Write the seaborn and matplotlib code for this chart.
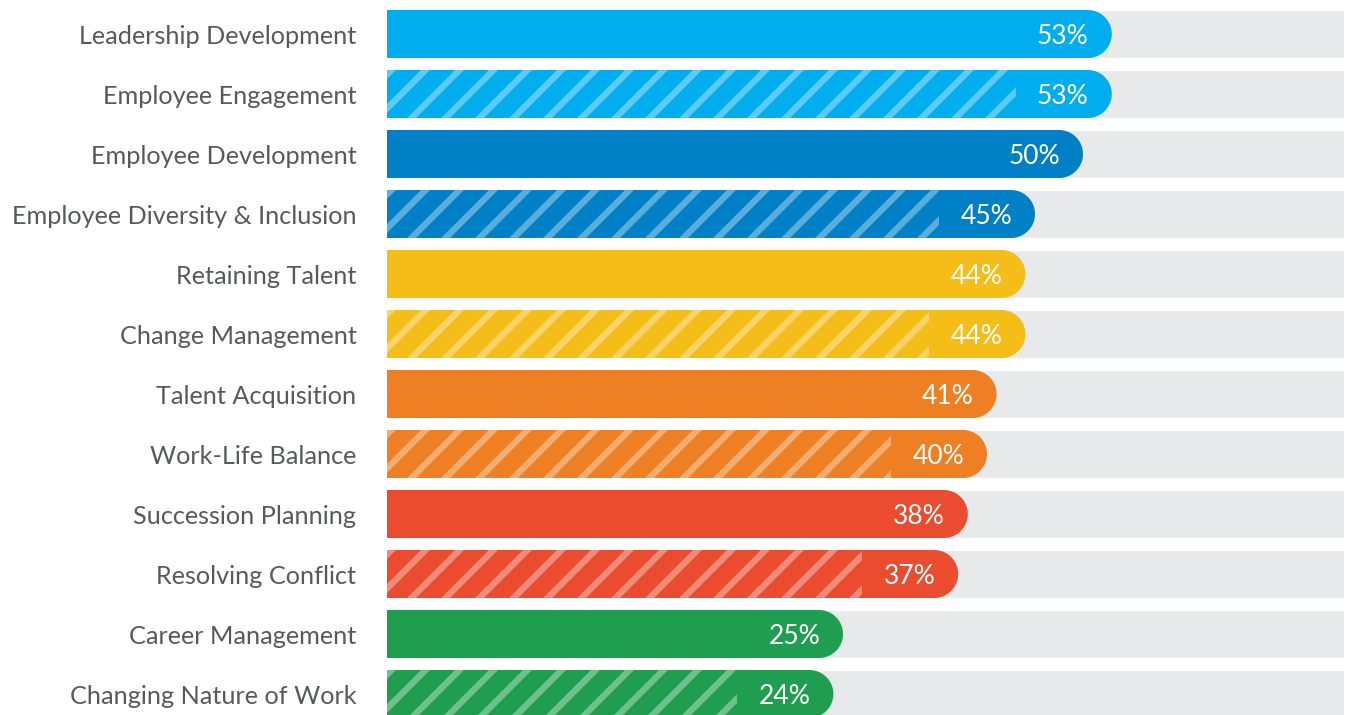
import numpy as np
import matplotlib
matplotlib.use("Agg")
import matplotlib.pyplot as plt
import seaborn as sns
from matplotlib.path import Path
from matplotlib.patches import PathPatch, Rectangle, Polygon

# --- data -----------------------------------------------------------------
categories = [
    "Leadership Development",
    "Employee Engagement",
    "Employee Development",
    "Employee Diversity & Inclusion",
    "Retaining Talent",
    "Change Management",
    "Talent Acquisition",
    "Work-Life Balance",
    "Succession Planning",
    "Resolving Conflict",
    "Career Management",
    "Changing Nature of Work",
]
values = [53, 53, 50, 45, 44, 44, 41, 40, 38, 37, 25, 24]
striped = [False, True, False, True, False, True, False, True, False, True, False, True]
colors = ["#00AEEF", "#00AEEF", "#0080C6", "#0080C6", "#F5BD18", "#F5BD18",
          "#EE7F22", "#EE7F22", "#EB4B2F", "#EB4B2F", "#209E4F", "#209E4F"]

# --- layout -----------------------------------------------------------------
W, H, DPI = 1346, 715, 100
AX_LEFT_PX, AX_RIGHT_PX = 387, 1344
PX_PER_PCT = 9.6
ZERO_PX = 603
XMIN = (AX_LEFT_PX - ZERO_PX) / PX_PER_PCT
XMAX = (AX_RIGHT_PX - ZERO_PX) / PX_PER_PCT
ROW_PX = 60
FIRST_CENTER_PX = 34
YTOP = -FIRST_CENTER_PX / ROW_PX
YBOT = (H - FIRST_CENTER_PX) / ROW_PX
BAR_H = 0.8
TRACK = "#E8E9EB"
TEXT = "#58595B"

sns.set_theme(style="white")
plt.rcParams["font.family"] = ["Lato", "DejaVu Sans"]

fig = plt.figure(figsize=(W / DPI, H / DPI), dpi=DPI)
ax = fig.add_axes([AX_LEFT_PX / W, 0, (AX_RIGHT_PX - AX_LEFT_PX) / W, 1])

sns.barplot(x=values, y=categories, hue=categories, palette=colors,
            orient="h", width=BAR_H, legend=False, ax=ax)

ax.set_xlim(XMIN, XMAX)
ax.set_ylim(YBOT, YTOP)

# grey tracks behind each bar
ypos = np.arange(len(categories))
ax.barh(ypos, XMAX - XMIN, left=XMIN, height=BAR_H, color=TRACK, zorder=0)

# pixel scale for converting a pixel radius into data units
px_x = (AX_RIGHT_PX - AX_LEFT_PX) / (XMAX - XMIN)
px_y = H / (YBOT - YTOP)

def rounded_bar(x0, x1, yc, h):
    """Bar with square left end and fully rounded right end."""
    ry = h
    rx = h * px_y / px_x
    cx = x1 - rx
    theta = np.linspace(-np.pi / 2, np.pi / 2, 40)
    pts = [(x0, yc - h), (cx, yc - h)]
    pts += [(cx + rx * np.cos(t), yc + ry * np.sin(t)) for t in theta]
    pts += [(x0, yc + h), (x0, yc - h)]
    codes = [Path.MOVETO] + [Path.LINETO] * (len(pts) - 2) + [Path.CLOSEPOLY]
    return Path(pts, codes)

bar_patches = [p for p in ax.patches if isinstance(p, Rectangle) and p.get_zorder() != 0]
bar_patches = sorted(bar_patches, key=lambda p: p.get_y())[:len(values)]

STRIPE_PERIOD = 34 / px_x
STRIPE_W = 9 / px_x
STRIPE_STOP = 96 / px_x

for patch, val, col, st in zip(bar_patches, values, colors, striped):
    yc = patch.get_y() + patch.get_height() / 2
    h = patch.get_height() / 2
    end = patch.get_width()
    patch.remove()
    ax.add_patch(PathPatch(rounded_bar(XMIN, end, yc, h), facecolor=col,
                           edgecolor="none", zorder=2))
    if st:
        clip = Rectangle((XMIN, yc - h), end - STRIPE_STOP - XMIN, 2 * h,
                         transform=ax.transData, facecolor="none", edgecolor="none")
        ax.add_patch(clip)
        lean = 2 * h * px_y / px_x
        s = XMIN - lean
        while s < end:
            poly = Polygon([(s, yc + h), (s + STRIPE_W, yc + h),
                            (s + STRIPE_W + lean, yc - h), (s + lean, yc - h)],
                           closed=True, facecolor="white", alpha=0.36,
                           edgecolor="none", zorder=3)
            ax.add_patch(poly)
            poly.set_clip_path(clip)
            s += STRIPE_PERIOD
    ax.text(end - 23 / px_x, yc + 2.5 / px_y, f"{val}%", color="white",
            fontsize=19, ha="right", va="center", zorder=4)

ax.set_xlabel("")
ax.set_ylabel("")
ax.set_xticks([])
ax.set_yticks(ypos)
ax.set_yticklabels(categories, fontsize=18.2, color=TEXT)
ax.tick_params(axis="y", length=0, pad=22)
for lbl in ax.get_yticklabels():
    lbl.set_va("center_baseline")
for spine in ax.spines.values():
    spine.set_visible(False)
ax.set_facecolor("white")

fig.savefig("out.png", dpi=DPI, facecolor="white")
